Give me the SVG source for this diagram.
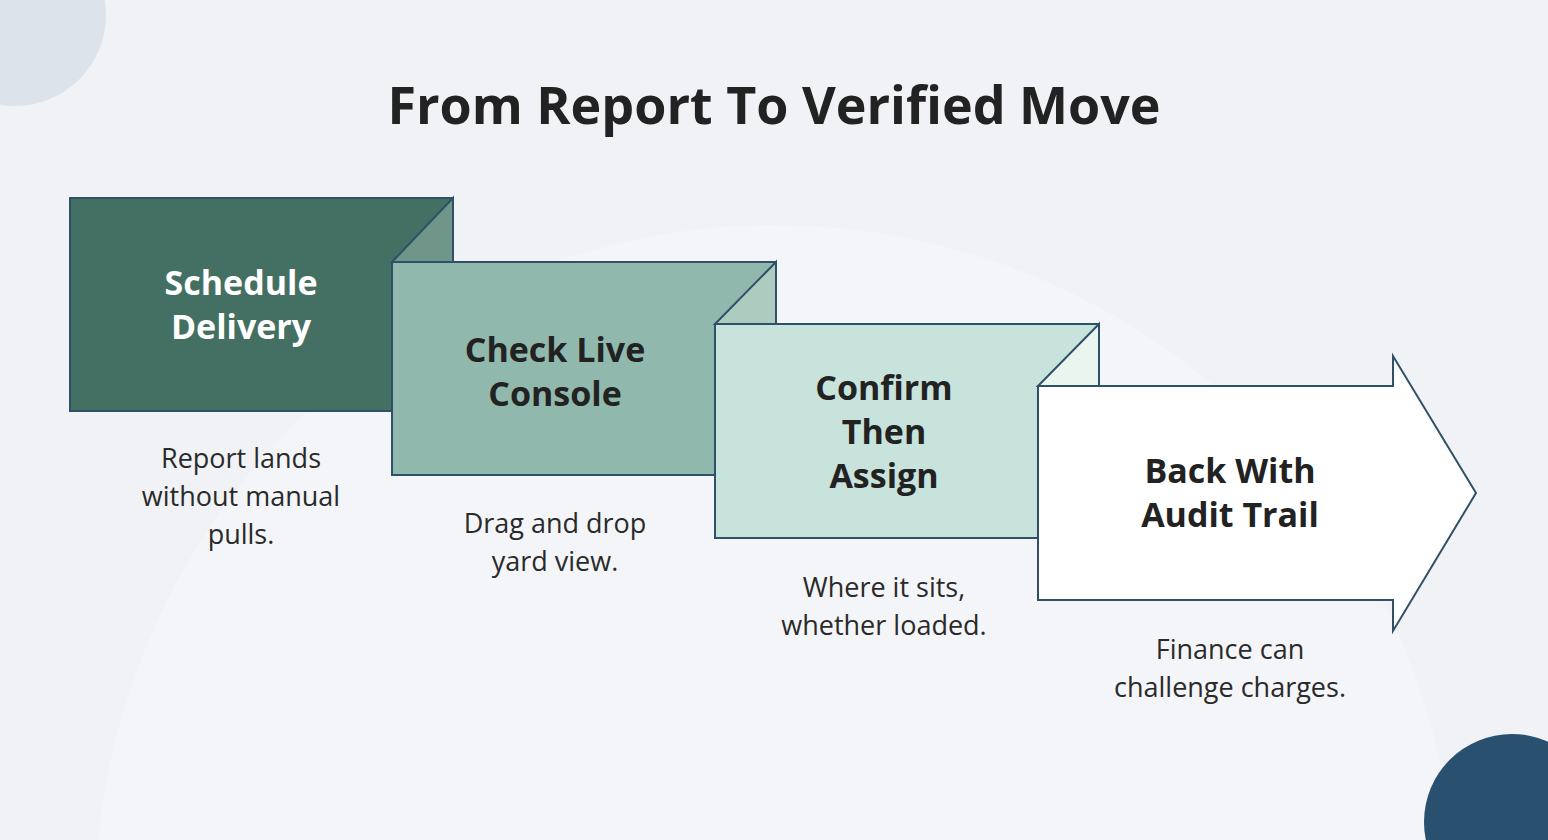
<svg xmlns="http://www.w3.org/2000/svg" width="1548" height="840" viewBox="0 0 1548 840">
<style>
.s{stroke:#2e5068;stroke-width:2;stroke-linejoin:miter}
.t{font-family:"Open Sans","Noto Sans",sans-serif;font-weight:700;font-size:34px;text-anchor:middle;fill:#222}
.d{font-family:"Open Sans","Noto Sans",sans-serif;font-size:27px;text-anchor:middle;fill:#2a2a2a}
</style>
<rect width="1548" height="840" fill="#f0f2f5"/>
<circle cx="775" cy="905" r="680" fill="#f4f5f8"/>
<circle cx="15" cy="15" r="91" fill="#dde3ea"/>
<circle cx="1512" cy="822" r="88" fill="#2a5070"/>
<text x="774" y="124" style="font-family:'Open Sans','Noto Sans',sans-serif;font-weight:700;font-size:52px;text-anchor:middle;fill:#222">From Report To Verified Move</text>
<g id="n1">
<rect x="70" y="198" width="383" height="213" fill="#447063" class="s"/>
<polygon points="453,198 392,262 453,262" fill="#6f9688" class="s"/>
<text class="t" x="241" y="295" fill="#fff" style="fill:#fff">Schedule</text>
<text class="t" x="241" y="339" style="fill:#fff">Delivery</text>
<text class="d" x="241" y="468">Report lands</text>
<text class="d" x="241" y="506">without manual</text>
<text class="d" x="241" y="544">pulls.</text>
</g>
<g id="n2">
<rect x="392" y="262" width="384" height="213" fill="#91b8ac" class="s"/>
<polygon points="776,262 715,324 776,324" fill="#aecbc0" class="s"/>
<text class="t" x="555" y="362">Check Live</text>
<text class="t" x="555" y="406">Console</text>
<text class="d" x="555" y="533">Drag and drop</text>
<text class="d" x="555" y="571">yard view.</text>
</g>
<g id="n3">
<rect x="715" y="324" width="384" height="214" fill="#c8e3db" class="s"/>
<polygon points="1099,324 1038,386 1099,386" fill="#e9f5ee" class="s"/>
<text class="t" x="884" y="400">Confirm</text>
<text class="t" x="884" y="444">Then</text>
<text class="t" x="884" y="488">Assign</text>
<text class="d" x="884" y="597">Where it sits,</text>
<text class="d" x="884" y="635">whether loaded.</text>
</g>
<g id="n4">
<polygon points="1038,386 1393,386 1393,356 1476,493 1393,631 1393,600 1038,600" fill="#fff" class="s"/>
<text class="t" x="1230" y="483">Back With</text>
<text class="t" x="1230" y="527">Audit Trail</text>
<text class="d" x="1230" y="659">Finance can</text>
<text class="d" x="1230" y="697">challenge charges.</text>
</g>
<g id="connectors"/>
</svg>
